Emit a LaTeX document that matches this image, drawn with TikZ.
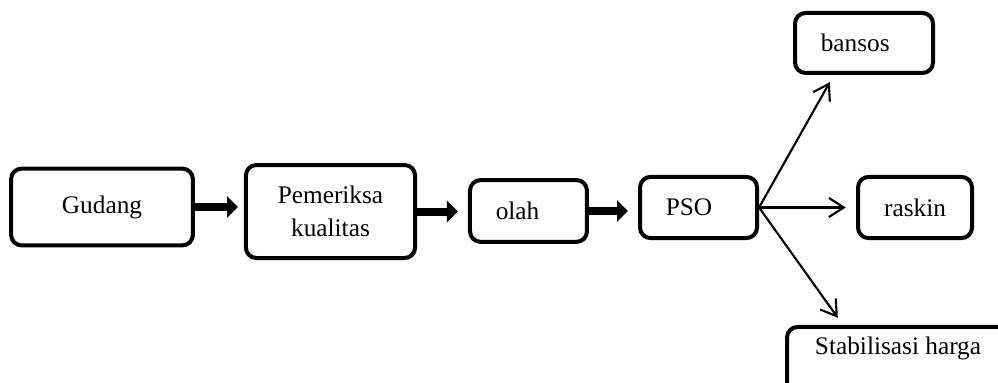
\documentclass[tikz,border=0pt]{standalone}
\usepackage{fontspec}
\setmainfont{Liberation Serif}
\usetikzlibrary{arrows.meta, calc}
\definecolor{cink}{HTML}{000000}
\tikzset{
  every picture/.style={font=\fontsize{12}{15.6}\selectfont},
  box/.style={draw=cink, line width=1.9pt, rounded corners=5pt, align=center, inner sep=3pt},
  leftbox/.style={box, align=left, inner xsep=0.43cm, text width=#1},
  thickarrow/.style={-{Triangle[length=0.18cm, width=0.35cm]}, draw=cink, line width=3.8pt},
  thinarrow/.style={-{Straight Barb[length=0.25cm, width=0.32cm]}, draw=cink, line width=1pt},
}
\begin{document}
\begin{tikzpicture}
  \useasboundingbox (0,0) rectangle (16.633,6.383);
  % main chain
  \node[box, minimum width=3.03cm, minimum height=1.28cm] (gudang) at (1.70,2.933) {Gudang};
  \node[box, minimum width=2.82cm, minimum height=1.55cm] (periksa) at (5.508,2.858) {Pemeriksa\\kualitas};
  \node[leftbox=1.09cm, minimum height=1.03cm] (olah) at (8.808,2.867) {olah};
  \node[leftbox=1.09cm, minimum height=1.02cm] (pso) at (11.642,2.925) {PSO};
  \draw[thickarrow, shorten >=0.1cm] (gudang.east) -- (gudang.east -| periksa.west);
  \draw[thickarrow, shorten >=0.17cm] (periksa.east) -- (periksa.east -| olah.west);
  \draw[thickarrow, shorten >=0.17cm] (olah.east) -- (olah.east -| pso.west);
  % distribution
  \node[leftbox=1.44cm, minimum height=1.0cm] (bansos) at (14.40,5.667) {bansos};
  \node[box, minimum width=1.90cm, minimum height=1.02cm] (raskin) at (15.25,2.925) {raskin};
  \node[box, minimum width=3.70cm, minimum height=1.133cm, text depth=0.52cm] (stabil) at (14.967,0.367) {Stabilisasi harga};
  \draw[thinarrow] (pso.east) -- ($(bansos.south)+(-0.57,-0.12)$);
  \draw[thinarrow, shorten >=0.17cm] (pso.east) -- (raskin.west);
  \draw[thinarrow] (pso.east) -- ($(stabil.north west)+(0.88,0.12)$);
\end{tikzpicture}
\end{document}
